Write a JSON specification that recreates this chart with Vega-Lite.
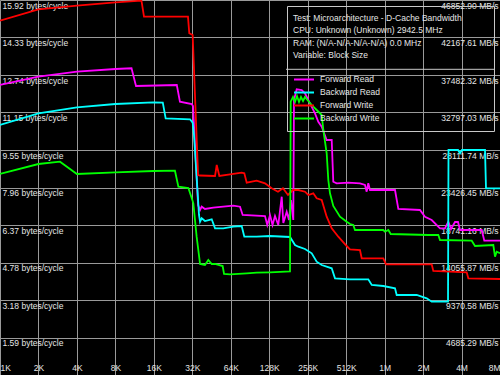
{
  "$schema": "https://vega.github.io/schema/vega-lite/v6.json",
  "width": 500,
  "height": 375,
  "padding": 0,
  "autosize": {"type": "none"},
  "background": "#000000",
  "config": {
    "view": {"stroke": null},
    "font": "Liberation Sans",
    "axis": {"labelFont": "Liberation Sans", "labelFontSize": 8.5, "labelColor": "#e6e6e6", "gridColor": "#9a9a9a", "gridWidth": 1, "gridOpacity": 1}
  },
  "layer": [
    {
      "data": {
        "values": [
          {"s": "Forward Read", "kb": 1, "v": 12.314}, {"s": "Forward Read", "kb": 2, "v": 12.666}, {"s": "Forward Read", "kb": 4, "v": 12.878}, {"s": "Forward Read", "kb": 8, "v": 12.993}, {"s": "Forward Read", "kb": 10.7, "v": 13.023}, {"s": "Forward Read", "kb": 11.6, "v": 12.271}, {"s": "Forward Read", "kb": 24.2, "v": 12.314}, {"s": "Forward Read", "kb": 25.6, "v": 11.605}, {"s": "Forward Read", "kb": 31.7, "v": 11.507}, {"s": "Forward Read", "kb": 32.4, "v": 11.422}, {"s": "Forward Read", "kb": 35.5, "v": 7.218}, {"s": "Forward Read", "kb": 36.8, "v": 7.006}, {"s": "Forward Read", "kb": 37.9, "v": 7.146}, {"s": "Forward Read", "kb": 40.2, "v": 7.049}, {"s": "Forward Read", "kb": 46.7, "v": 7.104}, {"s": "Forward Read", "kb": 55.9, "v": 7.146}, {"s": "Forward Read", "kb": 67, "v": 7.189}, {"s": "Forward Read", "kb": 75.6, "v": 7.146}, {"s": "Forward Read", "kb": 79.3, "v": 6.794}, {"s": "Forward Read", "kb": 118.6, "v": 6.751}, {"s": "Forward Read", "kb": 123.6, "v": 6.369}, {"s": "Forward Read", "kb": 129.8, "v": 6.794}, {"s": "Forward Read", "kb": 135.8, "v": 6.369}, {"s": "Forward Read", "kb": 142, "v": 6.751}, {"s": "Forward Read", "kb": 150.7, "v": 6.369}, {"s": "Forward Read", "kb": 160.3, "v": 7.571}, {"s": "Forward Read", "kb": 165, "v": 6.454}, {"s": "Forward Read", "kb": 175.4, "v": 6.934}, {"s": "Forward Read", "kb": 182.8, "v": 6.581}, {"s": "Forward Read", "kb": 189.5, "v": 7.431}, {"s": "Forward Read", "kb": 197.5, "v": 6.581}, {"s": "Forward Read", "kb": 200, "v": 11.677}, {"s": "Forward Read", "kb": 210, "v": 12.131}, {"s": "Forward Read", "kb": 229.8, "v": 12.101}, {"s": "Forward Read", "kb": 243.8, "v": 11.961}, {"s": "Forward Read", "kb": 266.8, "v": 11.537}, {"s": "Forward Read", "kb": 292, "v": 11.112}, {"s": "Forward Read", "kb": 310, "v": 10.755}, {"s": "Forward Read", "kb": 329.5, "v": 10.543}, {"s": "Forward Read", "kb": 360.5, "v": 9.978}, {"s": "Forward Read", "kb": 394.6, "v": 9.978}, {"s": "Forward Read", "kb": 406, "v": 8.208}, {"s": "Forward Read", "kb": 431.8, "v": 8.14}, {"s": "Forward Read", "kb": 532, "v": 8.165}, {"s": "Forward Read", "kb": 657, "v": 8.14}, {"s": "Forward Read", "kb": 719, "v": 8.068}, {"s": "Forward Read", "kb": 741, "v": 7.783}, {"s": "Forward Read", "kb": 763, "v": 8.14}, {"s": "Forward Read", "kb": 787, "v": 7.855}, {"s": "Forward Read", "kb": 1235, "v": 7.855}, {"s": "Forward Read", "kb": 1311, "v": 7.049}, {"s": "Forward Read", "kb": 1937, "v": 7.006}, {"s": "Forward Read", "kb": 2120, "v": 6.722}, {"s": "Forward Read", "kb": 2392, "v": 6.581}, {"s": "Forward Read", "kb": 2779, "v": 6.229}, {"s": "Forward Read", "kb": 3040, "v": 6.229}, {"s": "Forward Read", "kb": 3227, "v": 6.509}, {"s": "Forward Read", "kb": 3388, "v": 6.199}, {"s": "Forward Read", "kb": 3641, "v": 6.496}, {"s": "Forward Read", "kb": 3843, "v": 6.496}, {"s": "Forward Read", "kb": 3984, "v": 6.157}, {"s": "Forward Read", "kb": 5890, "v": 6.157}, {"s": "Forward Read", "kb": 6174, "v": 5.703}, {"s": "Forward Read", "kb": 8192, "v": 5.703},

          {"s": "Backward Read", "kb": 1, "v": 10.615}, {"s": "Backward Read", "kb": 2, "v": 11.112}, {"s": "Backward Read", "kb": 4, "v": 11.367}, {"s": "Backward Read", "kb": 8, "v": 11.507}, {"s": "Backward Read", "kb": 15.85, "v": 11.579}, {"s": "Backward Read", "kb": 18.8, "v": 11.562}, {"s": "Backward Read", "kb": 19.8, "v": 10.9}, {"s": "Backward Read", "kb": 30.7, "v": 10.857}, {"s": "Backward Read", "kb": 32.2, "v": 10.713}, {"s": "Backward Read", "kb": 33, "v": 10.191}, {"s": "Backward Read", "kb": 36.1, "v": 6.794}, {"s": "Backward Read", "kb": 36.8, "v": 6.509}, {"s": "Backward Read", "kb": 37.9, "v": 6.654}, {"s": "Backward Read", "kb": 40.2, "v": 6.539}, {"s": "Backward Read", "kb": 45.4, "v": 6.611}, {"s": "Backward Read", "kb": 48.2, "v": 6.229}, {"s": "Backward Read", "kb": 55.9, "v": 6.229}, {"s": "Backward Read", "kb": 67, "v": 6.297}, {"s": "Backward Read", "kb": 77.9, "v": 6.327}, {"s": "Backward Read", "kb": 81.7, "v": 5.872}, {"s": "Backward Read", "kb": 102, "v": 5.872}, {"s": "Backward Read", "kb": 129.8, "v": 5.902}, {"s": "Backward Read", "kb": 186.1, "v": 5.86}, {"s": "Backward Read", "kb": 203.7, "v": 5.52}, {"s": "Backward Read", "kb": 216.2, "v": 5.448}, {"s": "Backward Read", "kb": 243.8, "v": 5.35}, {"s": "Backward Read", "kb": 275.3, "v": 5.168}, {"s": "Backward Read", "kb": 301, "v": 4.811}, {"s": "Backward Read", "kb": 329.5, "v": 4.671}, {"s": "Backward Read", "kb": 394.6, "v": 4.531}, {"s": "Backward Read", "kb": 418.8, "v": 4.106}, {"s": "Backward Read", "kb": 548.8, "v": 4.064}, {"s": "Backward Read", "kb": 763, "v": 4.064}, {"s": "Backward Read", "kb": 812.3, "v": 3.821}, {"s": "Backward Read", "kb": 1000, "v": 3.779}, {"s": "Backward Read", "kb": 1235, "v": 3.681}, {"s": "Backward Read", "kb": 1273, "v": 3.397}, {"s": "Backward Read", "kb": 1826, "v": 3.397}, {"s": "Backward Read", "kb": 2186, "v": 3.257}, {"s": "Backward Read", "kb": 2392, "v": 3.112}, {"s": "Backward Read", "kb": 3210, "v": 3.112}, {"s": "Backward Read", "kb": 3239, "v": 9.554}, {"s": "Backward Read", "kb": 3843, "v": 9.554}, {"s": "Backward Read", "kb": 3984, "v": 9.413}, {"s": "Backward Read", "kb": 4130, "v": 9.554}, {"s": "Backward Read", "kb": 6252, "v": 9.554}, {"s": "Backward Read", "kb": 6366, "v": 7.927}, {"s": "Backward Read", "kb": 8192, "v": 7.927},

          {"s": "Forward Write", "kb": 1, "v": 15.044}, {"s": "Forward Write", "kb": 2, "v": 15.528}, {"s": "Forward Write", "kb": 4, "v": 15.681}, {"s": "Forward Write", "kb": 8, "v": 15.825}, {"s": "Forward Write", "kb": 12.8, "v": 15.893}, {"s": "Forward Write", "kb": 13.4, "v": 15.214}, {"s": "Forward Write", "kb": 29.6, "v": 15.214}, {"s": "Forward Write", "kb": 30.3, "v": 14.509}, {"s": "Forward Write", "kb": 32.2, "v": 14.437}, {"s": "Forward Write", "kb": 35.5, "v": 8.492}, {"s": "Forward Write", "kb": 36.8, "v": 8.471}, {"s": "Forward Write", "kb": 48.2, "v": 8.45}, {"s": "Forward Write", "kb": 49.7, "v": 8.917}, {"s": "Forward Write", "kb": 52.1, "v": 8.45}, {"s": "Forward Write", "kb": 63.1, "v": 8.522}, {"s": "Forward Write", "kb": 77.9, "v": 8.59}, {"s": "Forward Write", "kb": 81.7, "v": 8.564}, {"s": "Forward Write", "kb": 85.3, "v": 8.165}, {"s": "Forward Write", "kb": 102, "v": 8.25}, {"s": "Forward Write", "kb": 118.6, "v": 8.14}, {"s": "Forward Write", "kb": 133.8, "v": 7.927}, {"s": "Forward Write", "kb": 149.9, "v": 7.783}, {"s": "Forward Write", "kb": 164, "v": 7.927}, {"s": "Forward Write", "kb": 179.5, "v": 7.643}, {"s": "Forward Write", "kb": 196.5, "v": 7.855}, {"s": "Forward Write", "kb": 216.2, "v": 7.855}, {"s": "Forward Write", "kb": 243.8, "v": 7.783}, {"s": "Forward Write", "kb": 258.8, "v": 7.643}, {"s": "Forward Write", "kb": 283.2, "v": 7.715}, {"s": "Forward Write", "kb": 301, "v": 7.503}, {"s": "Forward Write", "kb": 329.5, "v": 7.431}, {"s": "Forward Write", "kb": 360.5, "v": 6.722}, {"s": "Forward Write", "kb": 394.6, "v": 6.229}, {"s": "Forward Write", "kb": 444.5, "v": 5.872}, {"s": "Forward Write", "kb": 517, "v": 5.477}, {"s": "Forward Write", "kb": 548.8, "v": 5.337}, {"s": "Forward Write", "kb": 657, "v": 5.308}, {"s": "Forward Write", "kb": 677.5, "v": 4.955}, {"s": "Forward Write", "kb": 1000, "v": 4.955}, {"s": "Forward Write", "kb": 1050, "v": 4.7}, {"s": "Forward Write", "kb": 2392, "v": 4.7}, {"s": "Forward Write", "kb": 2463, "v": 4.416}, {"s": "Forward Write", "kb": 4496, "v": 4.361}, {"s": "Forward Write", "kb": 4630, "v": 4.106}, {"s": "Forward Write", "kb": 8192, "v": 4.076},

          {"s": "Backward Write", "kb": 1, "v": 8.535}, {"s": "Backward Write", "kb": 2, "v": 8.959}, {"s": "Backward Write", "kb": 2.948, "v": 9.057}, {"s": "Backward Write", "kb": 4, "v": 8.535}, {"s": "Backward Write", "kb": 8, "v": 8.607}, {"s": "Backward Write", "kb": 15.85, "v": 8.662}, {"s": "Backward Write", "kb": 23.4, "v": 8.675}, {"s": "Backward Write", "kb": 24.9, "v": 7.995}, {"s": "Backward Write", "kb": 29.8, "v": 7.94}, {"s": "Backward Write", "kb": 31.7, "v": 7.503}, {"s": "Backward Write", "kb": 32.6, "v": 7.29}, {"s": "Backward Write", "kb": 34.6, "v": 5.872}, {"s": "Backward Write", "kb": 36.8, "v": 4.713}, {"s": "Backward Write", "kb": 40.2, "v": 4.671}, {"s": "Backward Write", "kb": 42.7, "v": 4.883}, {"s": "Backward Write", "kb": 45.4, "v": 4.713}, {"s": "Backward Write", "kb": 48.2, "v": 4.713}, {"s": "Backward Write", "kb": 55.3, "v": 4.628}, {"s": "Backward Write", "kb": 56.7, "v": 4.289}, {"s": "Backward Write", "kb": 63.1, "v": 4.276}, {"s": "Backward Write", "kb": 85.3, "v": 4.318}, {"s": "Backward Write", "kb": 102, "v": 4.344}, {"s": "Backward Write", "kb": 129.8, "v": 4.361}, {"s": "Backward Write", "kb": 186.1, "v": 4.395}, {"s": "Backward Write", "kb": 188.5, "v": 11.605}, {"s": "Backward Write", "kb": 196.5, "v": 11.804}, {"s": "Backward Write", "kb": 203.7, "v": 11.592}, {"s": "Backward Write", "kb": 211.1, "v": 11.847}, {"s": "Backward Write", "kb": 218.9, "v": 11.592}, {"s": "Backward Write", "kb": 226.9, "v": 11.804}, {"s": "Backward Write", "kb": 235.3, "v": 11.634}, {"s": "Backward Write", "kb": 243.8, "v": 11.804}, {"s": "Backward Write", "kb": 258.8, "v": 11.634}, {"s": "Backward Write", "kb": 275.3, "v": 11.464}, {"s": "Backward Write", "kb": 301, "v": 11.252}, {"s": "Backward Write", "kb": 329.5, "v": 11.04}, {"s": "Backward Write", "kb": 339.3, "v": 10.403}, {"s": "Backward Write", "kb": 360.5, "v": 9.413}, {"s": "Backward Write", "kb": 371.2, "v": 8.28}, {"s": "Backward Write", "kb": 382.7, "v": 7.715}, {"s": "Backward Write", "kb": 406, "v": 7.176}, {"s": "Backward Write", "kb": 458.3, "v": 6.722}, {"s": "Backward Write", "kb": 517, "v": 6.509}, {"s": "Backward Write", "kb": 548.8, "v": 6.412}, {"s": "Backward Write", "kb": 582.5, "v": 6.369}, {"s": "Backward Write", "kb": 600.6, "v": 6.157}, {"s": "Backward Write", "kb": 1000, "v": 6.157}, {"s": "Backward Write", "kb": 1031, "v": 6.085}, {"s": "Backward Write", "kb": 1095, "v": 6.157}, {"s": "Backward Write", "kb": 1143, "v": 5.987}, {"s": "Backward Write", "kb": 2251, "v": 5.944}, {"s": "Backward Write", "kb": 2695, "v": 5.944}, {"s": "Backward Write", "kb": 2779, "v": 5.732}, {"s": "Backward Write", "kb": 4919, "v": 5.703}, {"s": "Backward Write", "kb": 5222, "v": 5.477}, {"s": "Backward Write", "kb": 7262, "v": 5.52}, {"s": "Backward Write", "kb": 7487, "v": 5.023}, {"s": "Backward Write", "kb": 7718, "v": 5.235}, {"s": "Backward Write", "kb": 8192, "v": 5.168}
        ]
      },
      "mark": {"type": "line", "strokeWidth": 1.8, "interpolate": "linear"},
      "encoding": {
        "x": {
          "field": "kb", "type": "quantitative",
          "scale": {"type": "log", "base": 2, "domain": [1, 8192], "nice": false},
          "axis": {
            "values": [1, 2, 4, 8, 16, 32, 64, 128, 256, 512, 1024, 2048, 4096, 8192],
            "labelExpr": "datum.value >= 1024 ? (datum.value / 1024) + 'M' : datum.value + 'K'",
            "title": null, "grid": true, "ticks": false, "domain": false,
            "labelBaseline": "bottom", "labelPadding": -3, "labelFlush": true, "labelOverlap": false
          }
        },
        "y": {
          "field": "v", "type": "quantitative",
          "scale": {"domain": [0, 15.92282], "nice": false, "zero": false},
          "axis": {
            "orient": "left",
            "values": [1.592282, 3.184564, 4.776846, 6.369128, 7.96141, 9.553692, 11.145974, 12.738256, 14.330538, 15.92282],
            "labelExpr": "format(datum.value, '.2f') + ' bytes/cycle'",
            "title": null, "grid": true, "ticks": false, "domain": false,
            "labelAlign": "left", "labelBaseline": "top", "labelPadding": -2, "labelOffset": 1, "labelOverlap": false
          }
        },
        "color": {
          "field": "s", "type": "nominal",
          "scale": {"domain": ["Forward Read", "Backward Read", "Forward Write", "Backward Write"], "range": ["#ff00ff", "#00ffff", "#ff0000", "#00ff00"]},
          "legend": {
            "orient": "top-right", "offset": 6,
            "title": ["Test: Microarchitecture - D-Cache Bandwidth\u00a0\u00a0\u00a0\u00a0\u00a0\u00a0\u00a0\u00a0\u00a0\u00a0\u00a0\u200b", "CPU: Unknown (Unknown) 2942.5 MHz", "RAM:  (N/A-N/A-N/A-N/A) 0.0 MHz", "Variable: Block Size"],
            "titleFont": "Liberation Sans", "titleFontSize": 8.5, "titleFontWeight": "normal", "titleColor": "#e6e6e6", "titleLineHeight": 12.4, "titleBaseline": "line-top", "titlePadding": 15.5, "titleLimit": 400,
            "padding": 6, "strokeColor": "#c8c8c8", "fillColor": null,
            "symbolType": "stroke", "symbolSize": 400, "symbolStrokeWidth": 2, "symbolOffset": 0,
            "labelFont": "Liberation Sans", "labelFontSize": 8.5, "labelColor": "#e6e6e6", "labelOffset": 5,
            "clipHeight": 12.4, "rowPadding": 0
          }
        }
      }
    },
    {
      "data": {"values": [{}]},
      "mark": {"type": "rule", "color": "#c8c8c8", "strokeWidth": 1},
      "encoding": {
        "x": {"datum": 173.2, "type": "quantitative"},
        "x2": {"datum": 7353},
        "y": {
          "datum": 12.98, "type": "quantitative",
          "scale": {"domain": [0, 15.92282], "nice": false, "zero": false},
          "axis": {
            "orient": "right",
            "values": [1.592282, 3.184564, 4.776846, 6.369128, 7.96141, 9.553692, 11.145974, 12.738256, 14.330538, 15.92282],
            "labelExpr": "format(datum.value * 2942.5, '.2f') + ' MB/s'",
            "title": null, "grid": false, "ticks": false, "domain": false,
            "labelAlign": "right", "labelBaseline": "top", "labelPadding": -2, "labelOffset": 1, "labelOverlap": false
          }
        }
      }
    }
  ],
  "resolve": {"scale": {"y": "independent"}}
}
